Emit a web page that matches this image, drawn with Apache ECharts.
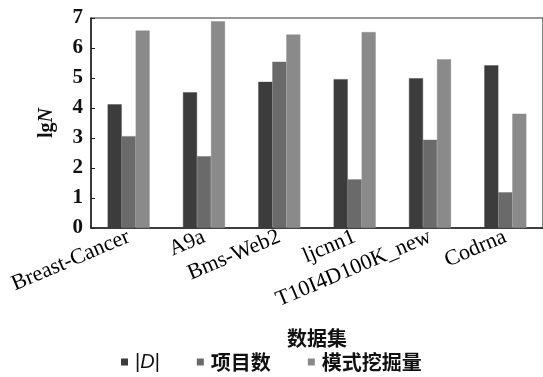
<!DOCTYPE html>
<html>
<head>
<meta charset="utf-8">
<script src="https://cdn.jsdelivr.net/npm/echarts@6/dist/echarts.min.js"></script>
<style>html,body{margin:0;padding:0;background:#fff;}#c{width:543px;height:377px;}</style>
</head>
<body>
<div id="c"></div>
<script>
var categories = ['Breast-Cancer', 'A9a', 'Bms-Web2', 'ljcnn1', 'T10I4D100K_new', 'Codrna'];
var seriesNames = ['|D|', '项目数', '模式挖掘量'];
var valuesD = [4.12, 4.52, 4.87, 4.96, 4.99, 5.42];
var valuesItems = [3.06, 2.39, 5.54, 1.62, 2.94, 1.19];
var valuesPatterns = [6.58, 6.89, 6.45, 6.53, 5.62, 3.81];
var yTicks = [0, 1, 2, 3, 4, 5, 6, 7];
var colors = ['#3c3c3c', '#6a6a6a', '#8a8a8a'];

var serif = '"Liberation Serif", "Times New Roman", serif';
var cjk = '"Noto Sans CJK SC", sans-serif';

var chart = echarts.init(document.getElementById('c'));
function bar(name, data, color) {
  return {
    name: name, type: 'bar', data: data, barGap: 0, barWidth: 14,
    itemStyle: { color: color, borderColor: color, borderWidth: 0.4 },
    emphasis: { disabled: true }
  };
}
chart.setOption({
  animation: false,
  grid: { left: 91, top: 18, width: 456, height: 210, show: true, borderColor: '#333', borderWidth: 1.2 },
  xAxis: {
    type: 'category', data: categories,
    axisLine: { lineStyle: { color: '#222', width: 1.5 } },
    axisTick: { show: false },
    axisLabel: { rotate: 23, margin: 8, color: '#000', fontFamily: serif, fontSize: 22, interval: 0 },
    name: '数据集', nameLocation: 'middle', nameGap: 100,
    nameTextStyle: { fontFamily: cjk, fontWeight: 'bold', fontSize: 20, color: '#111', verticalAlign: 'top' }
  },
  yAxis: {
    type: 'value', min: yTicks[0], max: yTicks[yTicks.length - 1], interval: 1,
    splitLine: { show: false },
    axisLine: { show: true, lineStyle: { color: '#222', width: 1.5 } },
    axisTick: { show: true, inside: true, length: 4, lineStyle: { color: '#222' } },
    axisLabel: { margin: 8, color: '#111', fontFamily: serif, fontWeight: 'bold', fontSize: 21 },
    name: '{a|lg}{b|N}', nameLocation: 'middle', nameRotate: 90, nameGap: 34,
    nameTextStyle: {
      rich: {
        a: { fontFamily: serif, fontSize: 20, fontWeight: 'bold', color: '#111' },
        b: { fontFamily: serif, fontSize: 20, fontWeight: 'bold', fontStyle: 'italic', color: '#111' }
      }
    }
  },
  legend: {
    left: 121, top: 352, padding: 0, itemWidth: 5, itemHeight: 5, itemGap: 37, icon: 'rect',
    data: seriesNames,
    formatter: function (n) { return n === '|D|' ? '{p|}{s||}{i|D}{s||}' : '{c|' + n + '}'; },
    textStyle: {
      padding: [0, 0, 0, 3],
      rich: {
        p: { width: 0 },
        s: { fontFamily: '"Liberation Sans", sans-serif', fontSize: 20, color: '#111' },
        i: { fontFamily: '"Liberation Sans", sans-serif', fontSize: 20, fontStyle: 'italic', color: '#111' },
        c: { fontFamily: cjk, fontSize: 20, fontWeight: 'bold', color: '#111' }
      }
    }
  },
  series: [
    bar(seriesNames[0], valuesD, colors[0]),
    bar(seriesNames[1], valuesItems, colors[1]),
    bar(seriesNames[2], valuesPatterns, colors[2])
  ]
});
</script>
</body>
</html>
